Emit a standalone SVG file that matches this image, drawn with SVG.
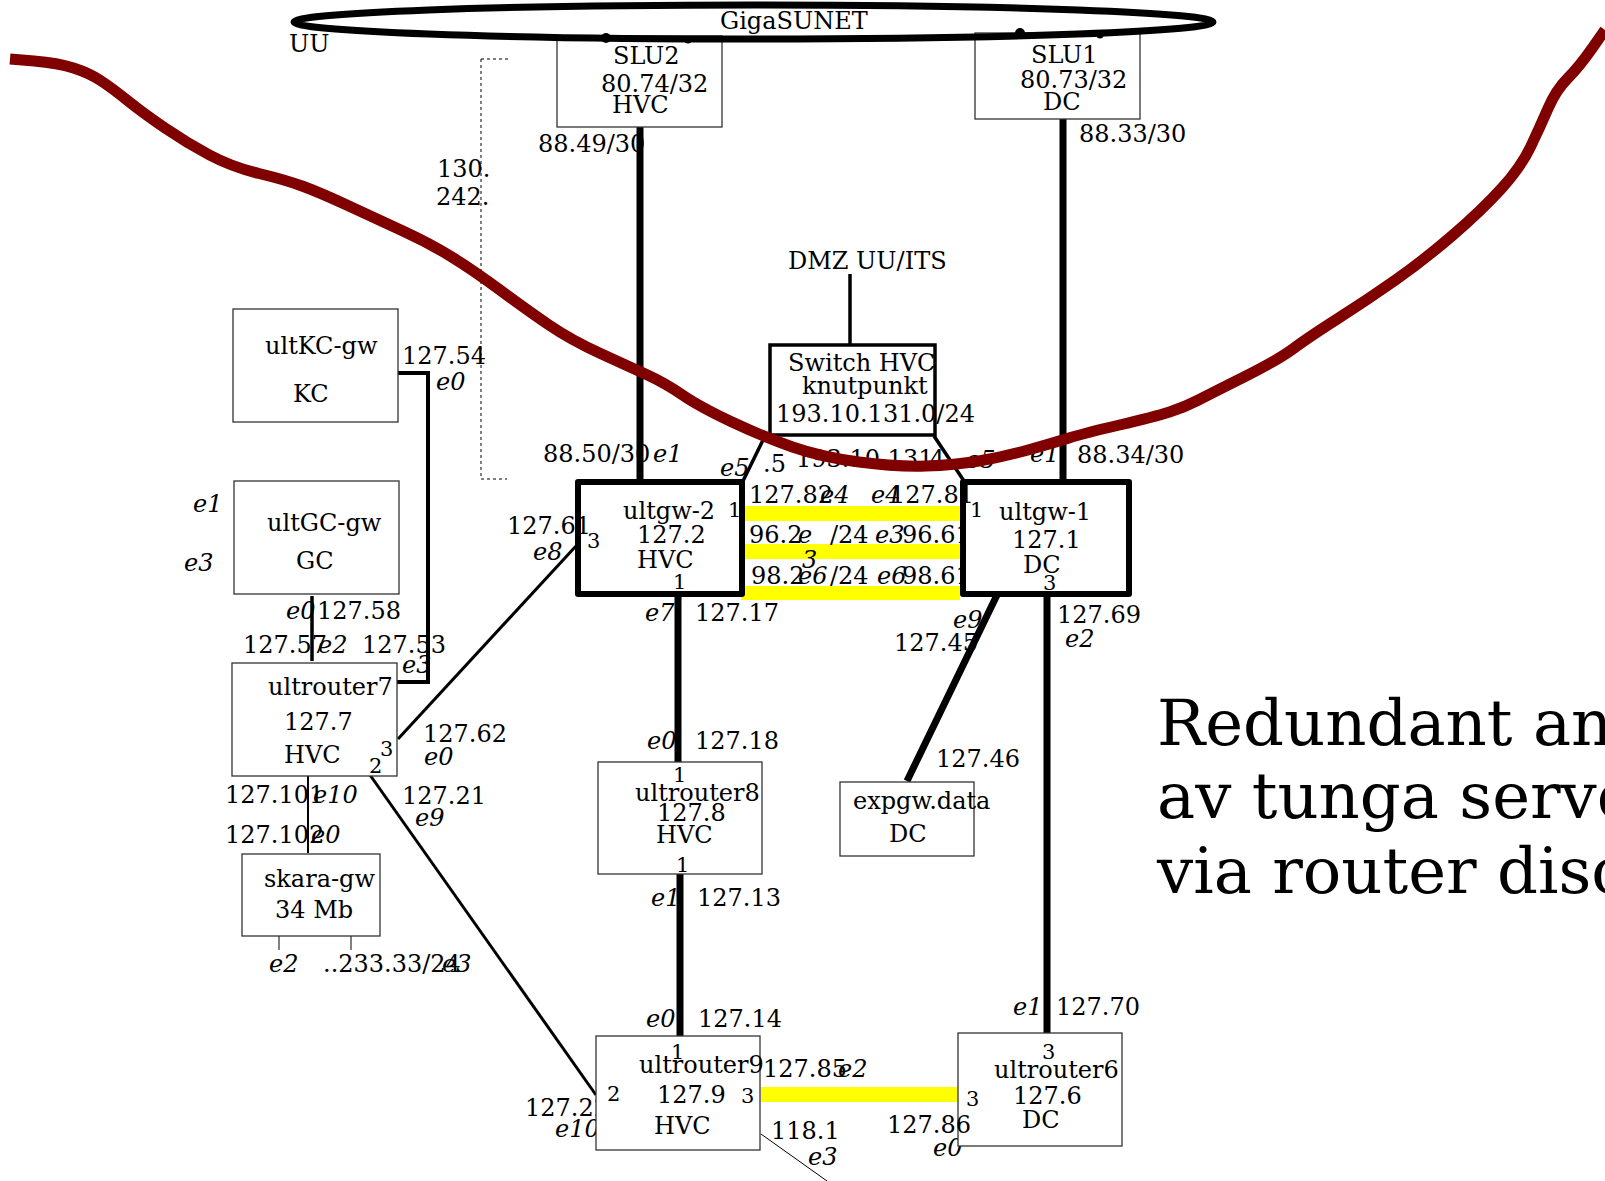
<svg xmlns="http://www.w3.org/2000/svg" width="1605" height="1181" viewBox="0 0 1605 1181">
<style>
text{font-family:"DejaVu Serif","Liberation Serif",serif;font-size:24px;fill:#000}
.i{font-style:italic}
.p{font-size:21px}
.big{font-size:64px}
.box{fill:#fff;stroke:#333;stroke-width:1.3}
.gw{fill:#fff;stroke:#000;stroke-width:6;stroke-linejoin:round}
.sw{fill:#fff;stroke:#000;stroke-width:3.5}
.c{fill:none;stroke:#000}
.y{fill:#ffff00}
</style>
<rect width="1605" height="1181" fill="#fff"/>

<g id="yellow-links">
<rect class="y" x="744" y="506" width="219" height="15"/>
<rect class="y" x="742" y="544" width="220" height="15"/>
<rect class="y" x="741" y="586" width="219" height="14"/>
<rect class="y" x="761" y="1087" width="198" height="15"/>
</g>

<g id="labels">
<text x="289" y="52">UU</text>
<text x="538" y="152">88.49/30</text>
<text x="437" y="177">130.</text>
<text x="436" y="205">242.</text>
<text x="1079" y="142">88.33/30</text>
<text x="788" y="269">DMZ UU/ITS</text>
<text x="543" y="462">88.50/30</text>
<text class="i" x="653" y="462">e1</text>
<text class="i" x="720" y="476">e5</text>
<text x="763" y="472">.5</text>
<text x="796" y="467">193.10.131</text>
<text x="922" y="467">.4</text>
<text class="i" x="966" y="468">e5</text>
<text class="i" x="1030" y="462">e1</text>
<text x="1077" y="463">88.34/30</text>
<text x="402" y="364">127.54</text>
<text class="i" x="436" y="390">e0</text>
<text class="i" x="193" y="512">e1</text>
<text class="i" x="184" y="571">e3</text>
<text class="i" x="286" y="619">e0</text>
<text x="317" y="619">127.58</text>
<text x="243" y="653">127.57</text>
<text class="i" x="318" y="653">e2</text>
<text x="362" y="653">127.53</text>
<text class="i" x="402" y="673">e3</text>
<text class="i" x="533" y="560">e8</text>
<text x="749" y="503">127.82</text>
<text class="i" x="820" y="503">e4</text>
<text class="i" x="871" y="503">e4</text>
<text x="749" y="543">96.2</text>
<text class="i" x="798" y="543">e</text>
<text x="830" y="543">/24</text>
<text class="i" x="875" y="543">e3</text>
<text x="902" y="543">96.61</text>
<text class="i" x="802" y="568">3</text>
<text x="751" y="584">98.2</text>
<text class="i" x="798" y="584">e6</text>
<text x="830" y="584">/24</text>
<text class="i" x="877" y="584">e6</text>
<text x="902" y="584">98.61</text>
<text class="i" x="645" y="621">e7</text>
<text x="695" y="621">127.17</text>
<text class="i" x="953" y="628">e9</text>
<text x="894" y="651">127.45</text>
<text x="1057" y="623">127.69</text>
<text class="i" x="1065" y="647">e2</text>
<text x="423" y="742">127.62</text>
<text class="i" x="424" y="765">e0</text>
<text class="i" x="647" y="749">e0</text>
<text x="695" y="749">127.18</text>
<text x="936" y="767">127.46</text>
<text x="225" y="803">127.101</text>
<text class="i" x="313" y="803">e10</text>
<text x="402" y="804">127.21</text>
<text class="i" x="415" y="826">e9</text>
<text x="225" y="843">127.102</text>
<text class="i" x="311" y="843">e0</text>
<text class="i" x="269" y="972">e2</text>
<text x="323" y="972">..233.33/24</text>
<text class="i" x="442" y="972">e3</text>
<text class="i" x="651" y="906">e1</text>
<text x="697" y="906">127.13</text>
<text class="i" x="646" y="1027">e0</text>
<text x="698" y="1027">127.14</text>
<text class="i" x="1013" y="1015">e1</text>
<text x="1056" y="1015">127.70</text>
<text x="525" y="1116">127.22</text>
<text class="i" x="555" y="1137">e10</text>
<text x="763" y="1077">127.85</text>
<text class="i" x="838" y="1077">e2</text>
<text x="771" y="1139">118.1</text>
<text class="i" x="808" y="1165">e3</text>
<text class="i" x="933" y="1156">e0</text>
<text class="big" x="1157" y="745">Redundant an</text>
<text class="big" x="1157" y="818">av tunga serve</text>
<text class="big" x="1157" y="893">via router disc</text>
</g>

<g id="connectors">
<path class="c" d="M481,59 H509 M481,59 V479 H507" stroke="#555" stroke-width="1" stroke-dasharray="3,3"/>
<line class="c" x1="640" y1="127" x2="640" y2="482" stroke-width="7"/>
<line class="c" x1="1063" y1="119" x2="1063" y2="482" stroke-width="7"/>
<line class="c" x1="850" y1="274" x2="850" y2="345" stroke-width="3.5"/>
<line class="c" x1="765" y1="436" x2="743" y2="481" stroke-width="3.5"/>
<line class="c" x1="934" y1="436" x2="964" y2="481" stroke-width="3.5"/>
<path class="c" d="M398,373 H428 V682 H397" stroke-width="4"/>
<line class="c" x1="312" y1="596" x2="312" y2="661" stroke-width="3.5"/>
<line class="c" x1="398" y1="739" x2="576" y2="546" stroke-width="3"/>
<line class="c" x1="308" y1="775" x2="308" y2="853" stroke-width="2"/>
<line class="c" x1="370" y1="775" x2="596" y2="1095" stroke-width="3"/>
<line class="c" x1="279" y1="936" x2="279" y2="950" stroke-width="1"/>
<line class="c" x1="351" y1="936" x2="351" y2="950" stroke-width="1"/>
<line class="c" x1="678" y1="594" x2="678" y2="762" stroke-width="7"/>
<line class="c" x1="680" y1="874" x2="680" y2="1036" stroke-width="7"/>
<line class="c" x1="997" y1="595" x2="907" y2="781" stroke-width="7"/>
<line class="c" x1="1047" y1="594" x2="1047" y2="1033" stroke-width="7"/>
<line class="c" x1="761" y1="1134" x2="827" y2="1181" stroke-width="1"/>
</g>

<g id="SLU2">
<rect class="box" x="557" y="36" width="165" height="91"/>
<text x="613" y="64">SLU2</text>
<text x="601" y="92">80.74/32</text>
<text x="612" y="113">HVC</text>
</g>
<g id="SLU1">
<rect class="box" x="975" y="33" width="165" height="86"/>
<text x="1031" y="63">SLU1</text>
<text x="1020" y="88">80.73/32</text>
<text x="1043" y="110">DC</text>
</g>
<g id="switch-hvc">
<rect class="sw" x="770" y="345" width="165" height="90"/>
<text x="788" y="371">Switch HVC</text>
<text x="802" y="394">knutpunkt</text>
<text x="776" y="422">193.10.131.0/24</text>
</g>
<g id="ultKC-gw">
<rect class="box" x="233" y="309" width="165" height="113"/>
<text x="265" y="354">ultKC-gw</text>
<text x="293" y="402">KC</text>
</g>
<g id="ultGC-gw">
<rect class="box" x="234" y="481" width="165" height="113"/>
<text x="267" y="531">ultGC-gw</text>
<text x="296" y="569">GC</text>
</g>
<g id="ultrouter7">
<rect class="box" x="232" y="663" width="165" height="113"/>
<text x="268" y="695">ultrouter7</text>
<text x="284" y="730">127.7</text>
<text x="284" y="763">HVC</text>
<text class="p" x="380" y="756">3</text>
<text class="p" x="369" y="773">2</text>
</g>
<g id="skara-gw">
<rect class="box" x="242" y="854" width="138" height="82"/>
<text x="264" y="887">skara-gw</text>
<text x="275" y="918">34 Mb</text>
</g>
<g id="ultgw-2">
<rect class="gw" x="578" y="482" width="164" height="112"/>
<text x="623" y="519">ultgw-2</text>
<text x="637" y="543">127.2</text>
<text x="637" y="568">HVC</text>
<text class="p" x="728" y="517">1</text>
<text class="p" x="587" y="548">3</text>
<text class="p" x="673" y="589">1</text>
</g>
<g id="ultgw-1">
<rect class="gw" x="963" y="482" width="166" height="112"/>
<text x="999" y="520">ultgw-1</text>
<text x="1012" y="548">127.1</text>
<text x="1023" y="573">DC</text>
<text class="p" x="970" y="517">1</text>
<text class="p" x="1043" y="590">3</text>
</g>
<g id="ultrouter8">
<rect class="box" x="598" y="762" width="164" height="112"/>
<text class="p" x="673" y="782">1</text>
<text x="635" y="801">ultrouter8</text>
<text x="657" y="821">127.8</text>
<text x="656" y="843">HVC</text>
<text class="p" x="676" y="872">1</text>
</g>
<g id="expgw-data">
<rect class="box" x="840" y="782" width="134" height="74"/>
<text x="853" y="809">expgw.data</text>
<text x="889" y="842">DC</text>
</g>
<g id="ultrouter9">
<rect class="box" x="596" y="1036" width="164" height="114"/>
<text class="p" x="671" y="1059">1</text>
<text x="639" y="1073">ultrouter9</text>
<text class="p" x="607" y="1101">2</text>
<text x="657" y="1103">127.9</text>
<text class="p" x="741" y="1103">3</text>
<text x="654" y="1134">HVC</text>
</g>
<g id="ultrouter6">
<rect class="box" x="958" y="1033" width="164" height="113"/>
<text class="p" x="1042" y="1059">3</text>
<text x="994" y="1078">ultrouter6</text>
<text x="1013" y="1104">127.6</text>
<text x="1022" y="1128">DC</text>
<text class="p" x="966" y="1106">3</text>
</g>

<g id="labels-over">
<text x="507" y="534">127.61</text>
<text x="890" y="503">127.81</text>
<text x="887" y="1133">127.86</text>
</g>

<g id="GigaSUNET">
<ellipse cx="753.5" cy="22" rx="459.5" ry="17" fill="none" stroke="#000" stroke-width="7"/>
<circle cx="606" cy="38" r="5"/>
<circle cx="688" cy="40" r="3.5"/>
<circle cx="1020" cy="33" r="5"/>
<circle cx="1100" cy="35" r="3.5"/>
<text x="720" y="29">GigaSUNET</text>
</g>

<path id="boundary" fill="none" stroke="#800000" stroke-width="11" stroke-linejoin="round" d="M 10,59 L 34,61 Q 58,63 73.5,68 Q 89,73 100.5,80.5 Q 112,88 127.5,100.5 Q 143,113 165,128 Q 187,143 209.5,155 Q 232,167 259,173.5 Q 286,180 303.5,186.5 Q 321,193 350,206.5 Q 379,220 404,231.5 Q 429,243 451,256.5 Q 473,270 500,290 Q 527,310 549,325 Q 571,340 600.5,353.5 Q 630,367 647.5,375 Q 665,383 682.5,395 Q 700,407 732,422 Q 764,437 792.5,447 Q 821,457 859,462 Q 897,467 926,466 Q 955,465 979,461 Q 1003,457 1028,450 Q 1053,443 1069,438 Q 1085,433 1119.5,425 Q 1154,417 1169.5,412 Q 1185,407 1198.5,400 Q 1212,393 1245,376.5 Q 1278,360 1293.5,348.5 Q 1309,337 1338,318.5 Q 1367,300 1395.5,280 Q 1424,260 1453,235 Q 1482,210 1501.5,188.5 Q 1521,167 1530.5,147 Q 1540,127 1548,108.5 Q 1556,90 1567.5,78.5 Q 1579,67 1592,48.5 L 1605,30"/>
</svg>
